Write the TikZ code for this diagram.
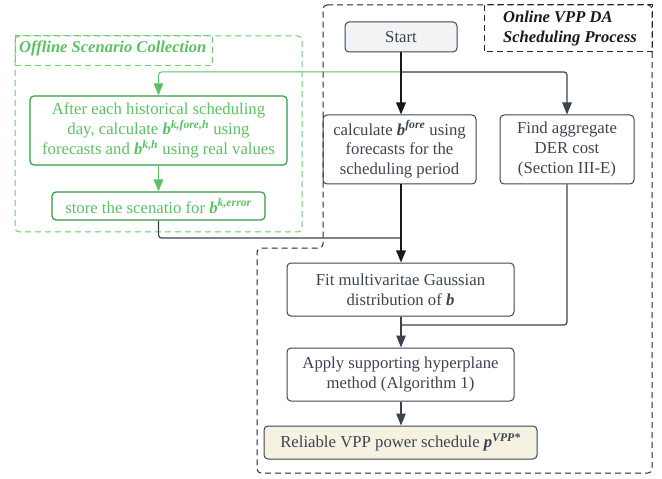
\documentclass[tikz,border=0pt]{standalone}
\usepackage{fontspec}
\setmainfont{Liberation Serif}
\usetikzlibrary{arrows.meta,calc}
\definecolor{txt}{HTML}{3D4451}
\definecolor{lgreen}{HTML}{5CC064}
\definecolor{dgreen}{HTML}{2E9E3E}
\definecolor{bgreen}{HTML}{6CCB6C}
\definecolor{lines}{HTML}{3B424D}
\definecolor{startfill}{HTML}{F1F3F5}
\definecolor{endfill}{HTML}{F6F2E1}
\newcommand{\bv}[1]{\textbf{\textit{#1}}}
\newcommand{\bsup}[1]{\textsuperscript{\bfseries\itshape #1}}
\begin{document}
\begin{tikzpicture}[x=1bp,y=-1bp,
  every node/.style={font=\fontsize{16.8}{20}\selectfont},
  proc/.style={draw=txt,line width=1bp,rounded corners=4bp,text=txt,align=center,inner sep=0pt},
  gproc/.style={draw=dgreen,line width=1.2bp,rounded corners=4bp,text=lgreen,align=center,inner sep=0pt},
  arr/.style={-{Triangle[length=12bp,width=9.5bp]},line width=1.2bp,rounded corners=3bp},
  frame/.style={dashed,dash pattern=on 6bp off 4bp,line width=1bp,rounded corners=4bp},
  ttl/.style={font=\fontsize{16.6}{20}\selectfont\bfseries\itshape,align=left,inner sep=0pt}
]
\useasboundingbox (0,0) rectangle (662,479);
% frames
\draw[frame,draw=black!85] (323,5) -- (652,5) -- (652,473) -- (257,473) -- (257,248) -- (323,248) -- cycle;
\draw[frame,draw=black!85,rounded corners=0pt] (484,5) rectangle (652,52);
\node[ttl,text=black!90,anchor=west] (ont) at (503,28.5) {Online VPP DA\\Scheduling Process};
\draw[frame,draw=bgreen] (15,36) rectangle (302,232);
\draw[frame,draw=bgreen,rounded corners=0pt] (15,36) rectangle (212,66);
\node[ttl,text=lgreen,anchor=west] (oft) at (19,48) {Offline Scenario Collection};
% nodes
\node[proc,fill=startfill,minimum width=112bp,minimum height=30bp] (start) at (401,37) {Start};
\node[proc,minimum width=153bp,minimum height=69bp] (calc) at (399.5,149.5) {calculate \bv{b}\bsup{fore} using\\forecasts for the\\scheduling period};
\node[proc,minimum width=134bp,minimum height=69bp] (find) at (567,149.5) {Find aggregate\\DER cost\\(Section III-E)};
\node[gproc,minimum width=257bp,minimum height=69bp] (after) at (158.5,130.5) {After each historical scheduling\\day, calculate \bv{b}\bsup{k,fore,h} using\\forecasts and \bv{b}\bsup{k,h} using real values};
\node[gproc,minimum width=213bp,minimum height=28bp] (store) at (158.5,206) {store the scenatio for \bv{b}\bsup{k,error}};
\node[proc,minimum width=227bp,minimum height=53bp] (fit) at (400.5,289.5) {Fit multivaritae Gaussian\\distribution of \bv{b}};
\node[proc,minimum width=227bp,minimum height=53bp] (apply) at (400.5,374.5) {Apply supporting hyperplane\\method (Algorithm 1)};
\node[proc,fill=endfill,minimum width=273bp,minimum height=33bp] (rel) at (400.5,442.5) {Reliable VPP power schedule \bv{p}\bsup{VPP*}};
% junctions
\coordinate (j0) at (401,72);
\coordinate (j1) at (401,238);
\coordinate (j2) at (401,325);
% connectors
\draw[arr,draw=lgreen,line width=1bp] (j0) -| (after.north);
\draw[arr,draw=lines] (j0) -| (find.north);
\draw[arr,draw=black!90,line width=1.7bp] (start.south) -- (start.south |- calc.north);
\draw[arr,draw=lgreen] (after.south) -- (store.north);
\draw[line width=1.2bp,draw=lines,rounded corners=3bp] (store.south) |- (j1);
\draw[arr,draw=black!90,line width=1.7bp] (start.south |- calc.south) -- (start.south |- fit.north);
\draw[line width=1.2bp,draw=lines,rounded corners=3bp] (find.south) |- (j2);
\draw[arr,draw=lines] (start.south |- fit.south) -- (start.south |- apply.north);
\draw[arr,draw=lines] (start.south |- apply.south) -- (start.south |- rel.north);
\end{tikzpicture}
\end{document}
